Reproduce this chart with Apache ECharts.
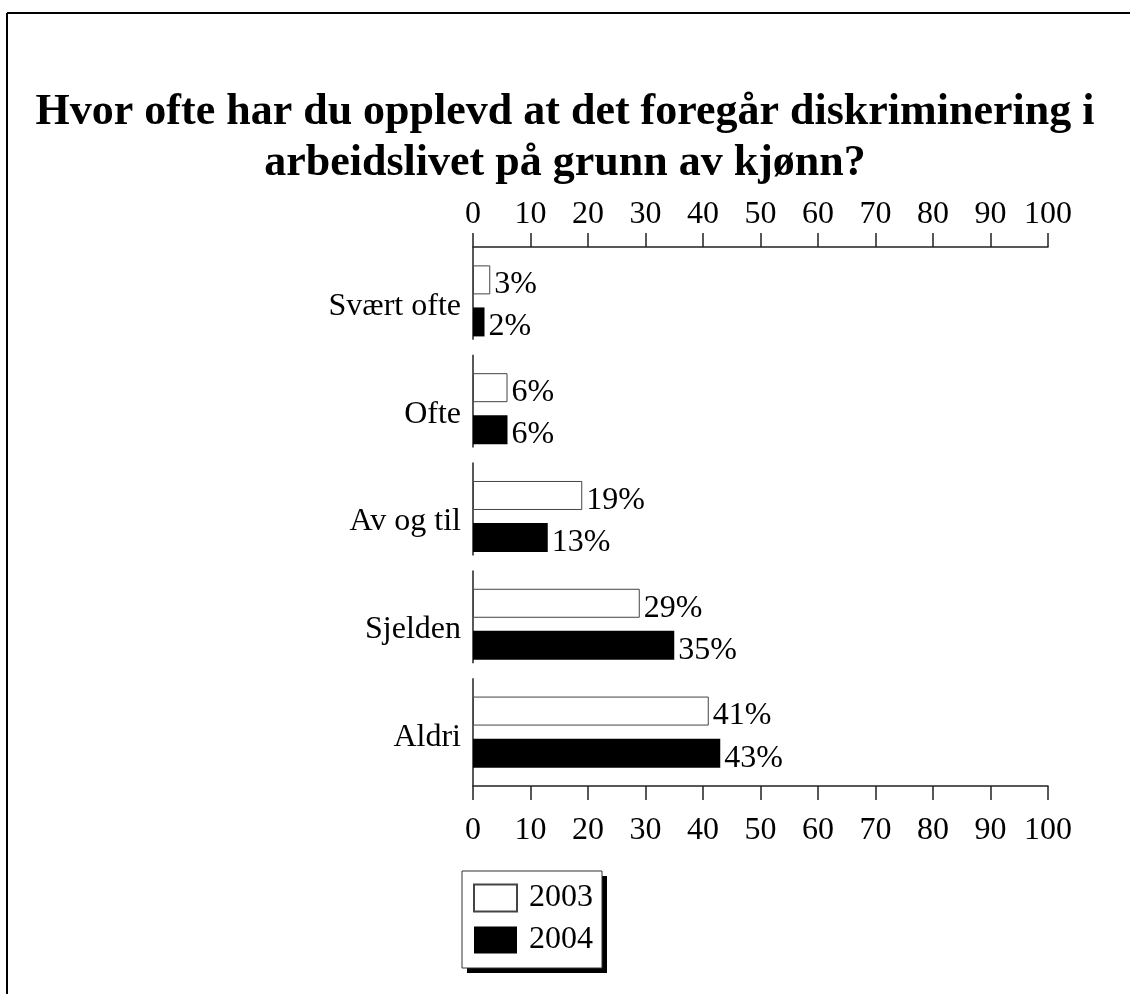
<!DOCTYPE html>
<html>
<head>
<meta charset="utf-8">
<script src="https://cdn.jsdelivr.net/npm/echarts@6/dist/echarts.min.js"></script>
<style>
  html, body { margin: 0; padding: 0; background: #fff; }
  #chart { width: 1130px; height: 994px; }
</style>
</head>
<body>
<div id="chart"></div>
<script>
// data
var categories = ['Svært ofte', 'Ofte', 'Av og til', 'Sjelden', 'Aldri'];
var values2003 = [3, 6, 19, 29, 41];
var values2004 = [2, 6, 13, 35, 43];
var xTicks = [0, 10, 20, 30, 40, 50, 60, 70, 80, 90, 100];

var serif = '"Liberation Serif", "DejaVu Serif", serif';
var chart = echarts.init(document.getElementById('chart'));

// x axis, same settings top and bottom
function valueAxis(pos, margin) {
  return {
    type: 'value',
    position: pos,
    min: xTicks[0],
    max: xTicks[xTicks.length - 1],
    interval: xTicks[1] - xTicks[0],
    axisLine: { show: true, lineStyle: { color: '#222', width: 1.5 } },
    axisTick: { show: true, inside: false, length: 14, lineStyle: { color: '#222', width: 1.5 } },
    axisLabel: { color: '#000', fontFamily: serif, fontSize: 32, margin: margin },
    splitLine: { show: false }
  };
}

var valueLabel = {
  show: true, position: 'right', distance: 4, offset: [0, 5], formatter: '{c}%',
  fontFamily: serif, fontSize: 32, color: '#000'
};

var option = {
  animation: false,
  backgroundColor: '#fff',
  graphic: [
    // frame (only top and left edges are visible)
    { type: 'line', shape: { x1: 7, y1: 13, x2: 1130, y2: 13 }, style: { stroke: '#000', lineWidth: 2 } },
    { type: 'line', shape: { x1: 7, y1: 13, x2: 7, y2: 994 }, style: { stroke: '#000', lineWidth: 2 } },
    // legend box with drop shadow
    { type: 'rect', shape: { x: 467, y: 876, width: 140, height: 97 }, style: { fill: '#000' } },
    { type: 'rect', shape: { x: 462, y: 871, width: 140, height: 97 }, style: { fill: '#fff', stroke: '#333', lineWidth: 1 } }
  ],
  title: {
    text: 'Hvor ofte har du opplevd at det foregår diskriminering i\narbeidslivet på grunn av kjønn?',
    left: 'center',
    top: 82,
    textStyle: { fontFamily: serif, fontWeight: 'bold', fontSize: 44, lineHeight: 51, color: '#000' }
  },
  legend: {
    orient: 'vertical',
    left: 473,
    top: 882,
    padding: 0,
    itemWidth: 43,
    itemHeight: 27,
    itemGap: 10,
    icon: 'rect',
    textStyle: { fontFamily: serif, fontSize: 32, color: '#000', padding: [0, 0, 0, 7] },
    data: ['2003', '2004']
  },
  grid: { left: 473, right: 82, top: 247, bottom: 208, containLabel: false },
  xAxis: [valueAxis('top', 16), valueAxis('bottom', 29)],
  yAxis: {
    type: 'category',
    inverse: true,
    data: categories,
    axisLine: { show: false },
    axisTick: { show: false },
    axisLabel: {
      color: '#000', fontFamily: serif, fontSize: 32, margin: 12,
      formatter: function (v) { return '{c|' + v + '}'; },
      rich: { c: { fontFamily: serif, fontSize: 32, color: '#000', padding: [11, 0, 0, 0] } }
    }
  },
  series: [
    {
      name: '2003',
      type: 'bar',
      xAxisIndex: 0,
      data: values2003,
      barWidth: 29,
      barGap: '45%',
      itemStyle: { color: '#fff', borderColor: '#444', borderWidth: 1 },
      label: valueLabel
    },
    {
      name: '2004',
      type: 'bar',
      xAxisIndex: 0,
      data: values2004,
      barWidth: 29,
      itemStyle: { color: '#000' },
      label: valueLabel
    },
    {
      // broken category axis line, one piece per band
      type: 'custom',
      xAxisIndex: 0,
      silent: true,
      legendHoverLink: false,
      data: categories.map(function (c, i) { return [0, i]; }),
      renderItem: function (params, api) {
        var idx = api.value(1);
        var p = api.coord([0, idx]);
        var band = api.size([0, 1])[1];
        var gap = idx === categories.length - 1 ? 0 : 15;
        return {
          type: 'line',
          shape: { x1: p[0], y1: p[1] - band / 2, x2: p[0], y2: p[1] + band / 2 - gap },
          style: { stroke: '#222', lineWidth: 1.5 }
        };
      }
    }
  ]
};

chart.setOption(option);
</script>
</body>
</html>
